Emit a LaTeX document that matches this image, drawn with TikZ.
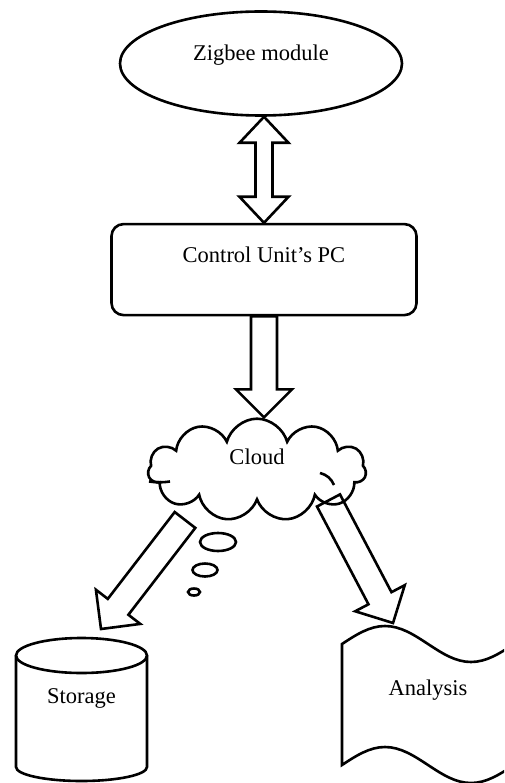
\documentclass[tikz,border=0pt]{standalone}
\usepackage{fontspec}
\setmainfont{Liberation Serif}
\usetikzlibrary{positioning,calc,shapes.geometric,shapes.symbols}

% block arrow with one head
\newcommand{\fatarrow}[2]{%
  \draw[line] let \p1=($(#2)!28pt!(#1)$) in
    ($(#1)!13pt!90:(#2)$) -- ($(\p1)!13pt!90:(#2)$) -- ($(\p1)!28pt!90:(#2)$) -- (#2)
    -- ($(\p1)!28pt!-90:(#2)$) -- ($(\p1)!13pt!-90:(#2)$) -- ($(#1)!13pt!-90:(#2)$) -- cycle;}
% block arrow with two heads
\newcommand{\fatdarrow}[2]{%
  \draw[line] let \p1=($(#2)!26pt!(#1)$), \p2=($(#1)!26pt!(#2)$) in
    (#1) -- ($(\p2)!24.5pt!90:(#2)$) -- ($(\p2)!8.5pt!90:(#2)$) -- ($(\p1)!8.5pt!90:(#2)$)
    -- ($(\p1)!24.5pt!90:(#2)$) -- (#2) -- ($(\p1)!24.5pt!-90:(#2)$) -- ($(\p1)!8.5pt!-90:(#2)$)
    -- ($(\p2)!8.5pt!-90:(#2)$) -- ($(\p2)!24.5pt!-90:(#2)$) -- cycle;}

\begin{document}
\begin{tikzpicture}[font=\fontsize{22.5pt}{27pt}\selectfont, x=1pt, y=1pt,
 line/.style={line width=2.6pt},
 module/.style={draw, line width=2.6pt, ellipse, minimum width=282pt, minimum height=104pt, text height=16pt, text depth=22pt},
 unit/.style={draw, line width=2.6pt, rounded corners=12pt, minimum width=305pt, minimum height=91pt, text height=16pt, text depth=30pt},
 cloudy/.style={draw, line width=2.6pt, cloud, cloud puffs=11, minimum width=218pt, minimum height=100pt, text height=16pt, text depth=26pt},
 drum/.style={outer sep=0pt, minimum width=131pt, minimum height=143pt, text height=16pt, text depth=29pt},
 tape/.style={outer sep=0pt, minimum width=172pt, minimum height=157pt, text height=16pt, text depth=35pt}]
\useasboundingbox (0,0) rectangle (504,-783);
\clip (0,0) rectangle (504,-783);

\node[module] (zig) at (261,-63.5) {Zigbee module};
\node[unit, below=106pt of zig, xshift=3pt] (ctrl) {Control Unit's PC};
\node[cloudy, below=101pt of ctrl, xshift=-7pt] (cloud) {Cloud};
\node[drum] (stor) at (81.5,-709.5) {Storage};
\node[tape] (ana) at (428,-704.5) {Analysis};

% cloud inner strokes
\draw[line] ([shift={(-108pt,-11.5pt)}]cloud.center) to[bend right=8] ([shift={(-87pt,-11.5pt)}]cloud.center);
\draw[line] ([shift={(63pt,-3pt)}]cloud.center) to[bend left=25] ([shift={(77pt,-15pt)}]cloud.center);
% storage drum
\draw[line] ([yshift=-17.5pt]stor.north) ellipse[x radius=65.5, y radius=17.5];
\draw[line] ([yshift=-17.5pt]stor.north west) -- ([yshift=14pt]stor.south west)
  arc[start angle=180, end angle=360, x radius=65.5, y radius=14] -- ([yshift=-17.5pt]stor.north east);
% punched tape
\draw[line, shift={(ana.north west)}] (0,-18) sin (43,0) cos (86,-18) sin (129,-36) cos (172,-18)
  -- (172,-139) sin (129,-157) cos (86,-139) sin (43,-121) cos (0,-139) -- cycle;
% thought bubbles
\foreach \bx/\by/\rx/\ry in {218/-542/18/9, 205/-570/12.5/6.5, 194/-592/6/3.5}
  \draw[line] (\bx,\by) ellipse[x radius=\rx, y radius=\ry];

\coordinate (z-out) at (ctrl.north |- zig.south);
\coordinate (c-in) at (ctrl.south |- cloud.north);
\coordinate (l-out) at ([shift={(-72pt,-50pt)}]cloud.center);
\coordinate (l-in) at ([shift={(19.5pt,9pt)}]stor.north);
\coordinate (r-out) at ([shift={(71.5pt,-30.5pt)}]cloud.center);
\coordinate (r-in) at ([shift={(-35pt,3pt)}]ana.north);
\fatdarrow{z-out}{ctrl.north}
\fatarrow{ctrl.south}{c-in}
\fatarrow{l-out}{l-in}
\fatarrow{r-out}{r-in}
\end{tikzpicture}
\end{document}
